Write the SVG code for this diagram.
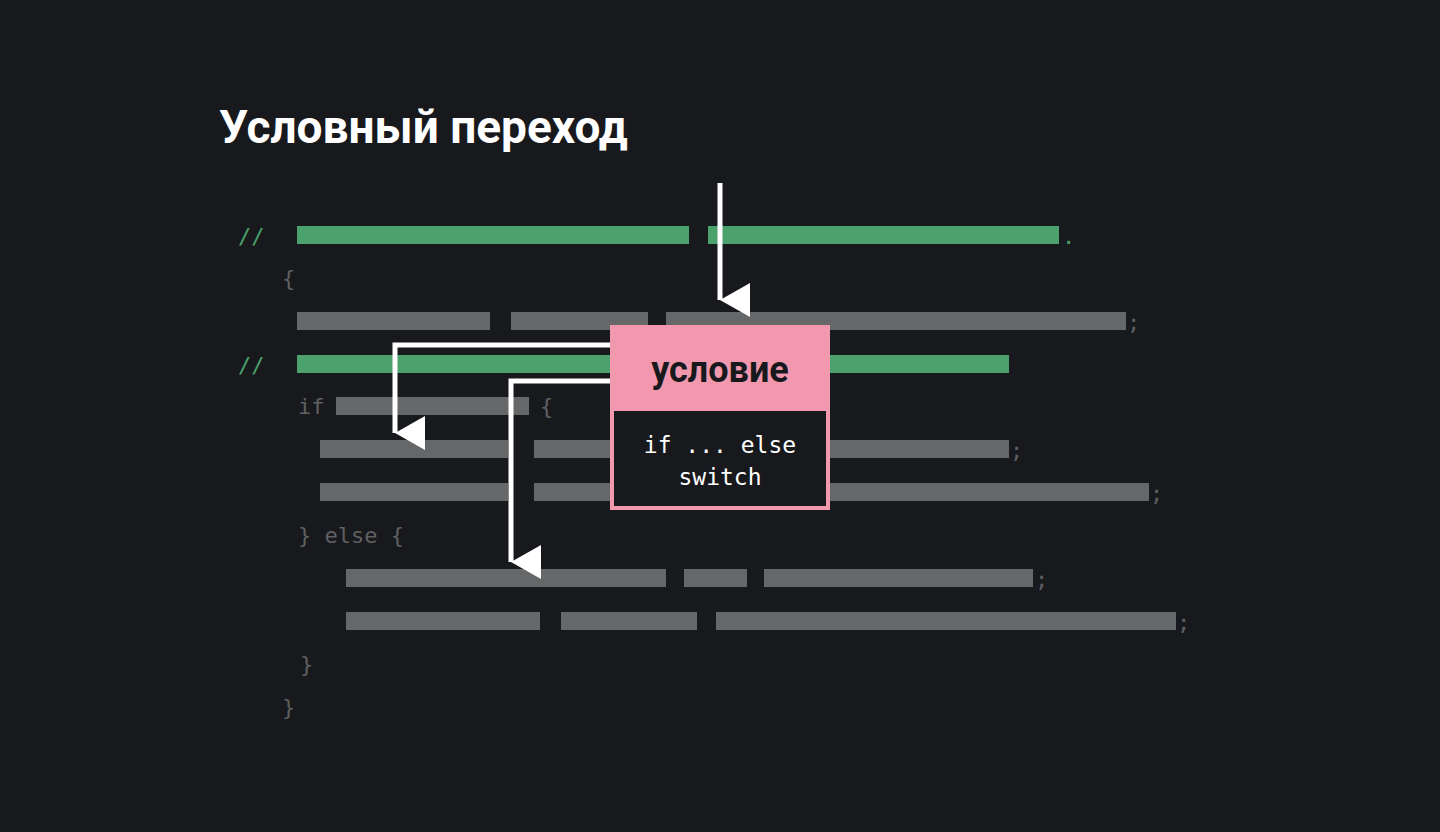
<svg xmlns="http://www.w3.org/2000/svg" width="1440" height="832" viewBox="0 0 1440 832">
<style>
.g{fill:#4aa16b}.b{fill:#666768}
.c{font-family:"DejaVu Sans Mono","Liberation Mono",monospace;font-size:22px;fill:#5f6062}
.cg{font-family:"DejaVu Sans Mono","Liberation Mono",monospace;font-size:22px;fill:#4aa16b}
.w{stroke:#fff;stroke-width:5;fill:none}
</style>
<defs><marker id="ah" viewBox="0 0 34 30" refX="17" refY="30" markerWidth="34" markerHeight="30" markerUnits="userSpaceOnUse" orient="auto-start-reverse"><path d="M0 0H34L17 30Z" fill="#fff"/></marker></defs>
<rect width="1440" height="832" fill="#18191c"/>
<text x="219" y="143" font-family="Roboto,sans-serif" font-weight="bold" font-size="46" fill="#fff">Условный переход</text>
<g id="code">
<text x="238" y="244" class="cg">//</text>
<rect x="297" y="226" width="392" height="18" class="g"/><rect x="708" y="226" width="351" height="18" class="g"/>
<text x="1062" y="244" class="cg">.</text>
<text x="282" y="286" class="c">{</text>
<rect x="297" y="312" width="193" height="18" class="b"/><rect x="511" y="312" width="137" height="18" class="b"/><rect x="666" y="312" width="460" height="18" class="b"/>
<text x="1127" y="330" class="c">;</text>
<text x="238" y="373" class="cg">//</text>
<rect x="297" y="355" width="712" height="18" class="g"/>
<text x="298" y="414" class="c">if</text>
<rect x="336" y="397" width="193" height="18" class="b"/>
<text x="540" y="414" class="c">{</text>
<rect x="320" y="440" width="188" height="18" class="b"/><rect x="534" y="440" width="475" height="18" class="b"/>
<text x="1010" y="458" class="c">;</text>
<rect x="320" y="483" width="188" height="18" class="b"/><rect x="534" y="483" width="615" height="18" class="b"/>
<text x="1150" y="501" class="c">;</text>
<text x="298" y="543" class="c">} else {</text>
<rect x="346" y="569" width="320" height="18" class="b"/><rect x="684" y="569" width="63" height="18" class="b"/><rect x="764" y="569" width="269" height="18" class="b"/>
<text x="1035" y="587" class="c">;</text>
<rect x="346" y="612" width="194" height="18" class="b"/><rect x="561" y="612" width="136" height="18" class="b"/><rect x="716" y="612" width="460" height="18" class="b"/>
<text x="1177" y="630" class="c">;</text>
<text x="300" y="672" class="c">}</text>
<text x="282" y="715" class="c">}</text>
</g>
<g id="connectors">
<path class="w" d="M720 183V300" marker-end="url(#ah)"/>
<path class="w" d="M612 345H395V433" marker-end="url(#ah)"/>
<path class="w" d="M612 381H511V562" marker-end="url(#ah)"/>
</g>
<g id="cond">
<rect x="610" y="325" width="220" height="185" fill="#f298ae"/>
<rect x="614" y="411" width="212" height="95" fill="#18191c"/>
<text x="720" y="382" text-anchor="middle" font-family="Roboto,sans-serif" font-weight="bold" font-size="36" fill="#18191c">условие</text>
<text x="720" y="453" text-anchor="middle" font-family="'DejaVu Sans Mono',monospace" font-size="23" fill="#fff">if ... else</text>
<text x="720" y="485" text-anchor="middle" font-family="'DejaVu Sans Mono',monospace" font-size="23" fill="#fff">switch</text>
</g>
</svg>
